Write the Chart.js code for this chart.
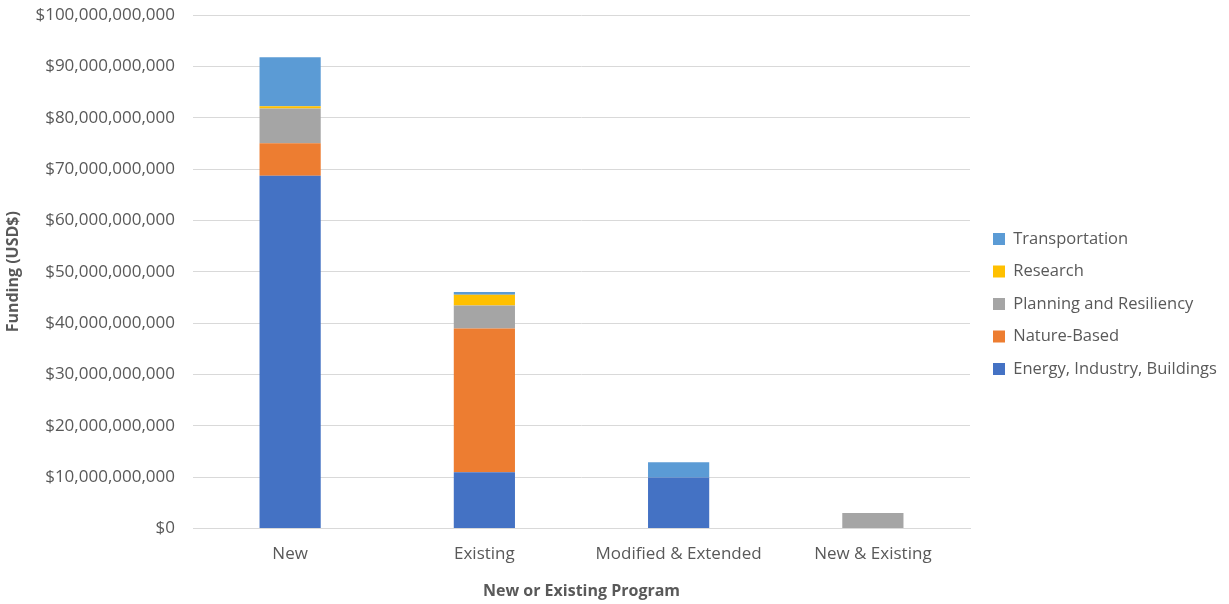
<!DOCTYPE html>
<html>
<head>
<meta charset="utf-8">
<script src="https://cdn.jsdelivr.net/npm/chart.js@4"></script>
<style>
  html, body { margin: 0; padding: 0; background: #fff; }
  #wrap { width: 1229px; height: 604px; }
</style>
</head>
<body>
<div id="wrap"><canvas id="chart" width="1229" height="604"></canvas></div>
<script>
// Data -----------------------------------------------------------------------------------

var programs = ['New', 'Existing', 'Modified & Extended', 'New & Existing'];

var energyIndustryBuildings = [68.7e9, 10.95e9, 9.9e9, 0];
var natureBased             = [6.3e9, 28.0e9, 0, 0];
var planningResiliency      = [6.8e9, 4.45e9, 0, 3.0e9];
var research                = [0.45e9, 2.1e9, 0, 0];
var transportation          = [9.5e9, 0.55e9, 3.0e9, 0];

// Constants ------------------------------------------------------------------------------

var FONT = '"Open Sans", Lato, sans-serif';
var TEXT_COLOR = '#595959';
var GRID_COLOR = '#D9D9D9';

var PAD_LEFT = 4;
var PAD_RIGHT = 6;
var PAD_TOP = 15;
var PAD_BOTTOM = 3;
var PLOT_LEFT = 193;
var PLOT_RIGHT = 970;

// Chart ----------------------------------------------------------------------------------

function dataset(label, data, color) {
    return {
        label: label,
        data: data,
        backgroundColor: color,
        borderWidth: 0,
        barPercentage: 0.63,
        categoryPercentage: 0.5
    };
}

// fixed legend column, items nudged in from its left edge
var legendWidth = {
    id: 'legendWidth',
    beforeLayout: function (chart) {
        var legend = chart.legend;
        if (legend && !legend._fixed) {
            var fit = legend.fit;
            legend.fit = function () {
                fit.call(this);
                this.width = 1229 - PAD_RIGHT - PLOT_RIGHT;
            };
            legend._fixed = true;
        }
    },
    afterLayout: function (chart) {
        chart.legend.left += 7;
        chart.legend.top -= 4;
        chart.legend.bottom -= 4;
    }
};

var context = document.getElementById('chart').getContext('2d');

new Chart(context, {
    type: 'bar',
    data: {
        labels: programs,
        datasets: [
            dataset('Energy, Industry, Buildings', energyIndustryBuildings, '#4472C4'),
            dataset('Nature-Based', natureBased, '#ED7D31'),
            dataset('Planning and Resiliency', planningResiliency, '#A5A5A5'),
            dataset('Research', research, '#FFC000'),
            dataset('Transportation', transportation, '#5B9BD5')
        ]
    },
    options: {
        responsive: false,
        animation: false,
        layout: { padding: { top: PAD_TOP, left: PAD_LEFT, right: PAD_RIGHT, bottom: PAD_BOTTOM } },
        plugins: {
            tooltip: { enabled: false },
            legend: {
                position: 'right',
                reverse: true,
                labels: {
                    color: TEXT_COLOR,
                    font: { family: FONT, size: 16.5 },
                    boxWidth: 12,
                    boxHeight: 12,
                    padding: 16
                }
            }
        },
        scales: {
            x: {
                stacked: true,
                grid: { display: false, drawTicks: false },
                border: { color: GRID_COLOR },
                ticks: {
                    color: TEXT_COLOR,
                    font: { family: FONT, size: 17 },
                    padding: 16
                },
                title: {
                    display: true,
                    text: 'New or Existing Program',
                    color: TEXT_COLOR,
                    font: { family: FONT, size: 16, weight: 'bold' },
                    padding: { top: 1, bottom: 0 }
                }
            },
            y: {
                stacked: true,
                min: 0,
                max: 100e9,
                grid: { color: GRID_COLOR, drawTicks: false },
                border: { display: false },
                afterFit: function (scale) {
                    scale.width = PLOT_LEFT - PAD_LEFT;
                    scale.paddingTop = 0;
                },
                ticks: {
                    stepSize: 10e9,
                    color: TEXT_COLOR,
                    font: { family: FONT, size: 17 },
                    padding: 18,
                    callback: function (value) {
                        return '$' + Number(value).toLocaleString('en-US');
                    }
                },
                title: {
                    display: true,
                    text: 'Funding (USD$)',
                    color: TEXT_COLOR,
                    font: { family: FONT, size: 16, weight: 'bold' },
                    padding: { top: 0, bottom: 10 }
                }
            }
        }
    },
    plugins: [legendWidth]
});
</script>
</body>
</html>
